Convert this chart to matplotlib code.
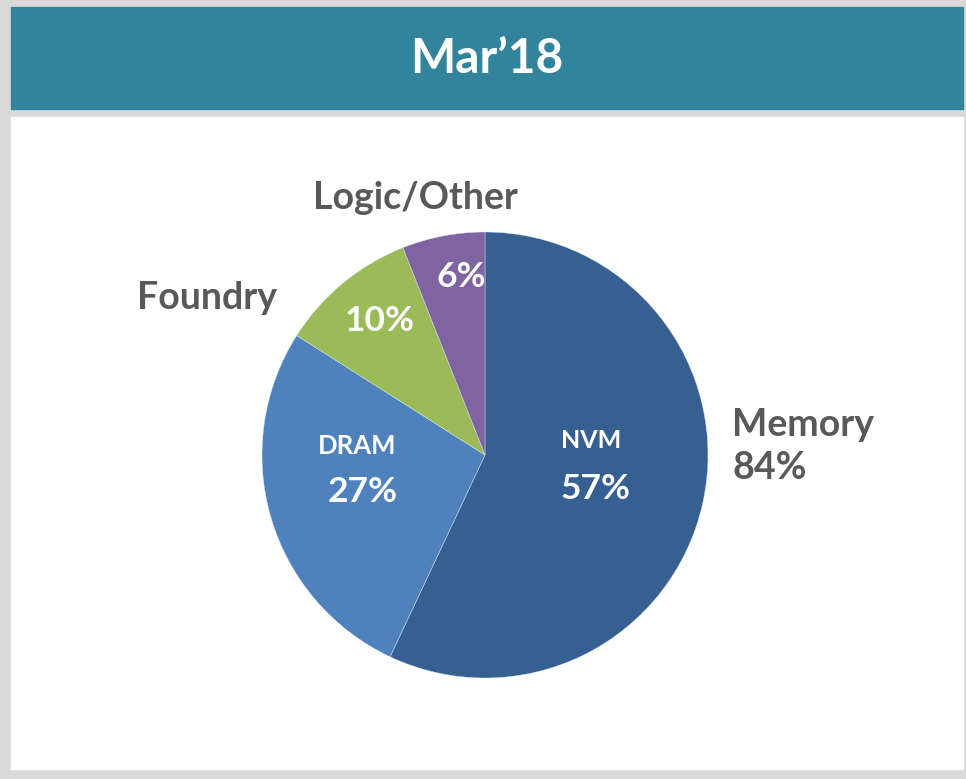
import matplotlib
matplotlib.use("Agg")
import matplotlib.pyplot as plt
from matplotlib.patches import Rectangle

# data
segments = ["NVM", "DRAM", "Foundry", "Logic/Other"]
shares = [57, 27, 10, 6]
colors = ["#366092", "#4F81BD", "#9BBB59", "#8064A2"]
title = "Mar\u201918"
memory_total = 84

W, H = 966, 779
GREY = "#595959"
FONT = "Lato"

fig = plt.figure(figsize=(W / 100, H / 100), dpi=100)
fig.patch.set_facecolor("#D9D9D9")
ax = fig.add_axes([0, 0, 1, 1])


def py(y):
    # pixel row (top origin) -> data y
    return H - y


# header band and white panel
ax.add_patch(Rectangle((11, py(109)), 952, 102, color="#31849B", zorder=0))
ax.add_patch(Rectangle((11, py(769)), 952, 652, color="white", zorder=0))

ax.pie(shares, colors=colors, startangle=90, counterclock=False,
       center=(485, py(455)), radius=223, frame=True,
       wedgeprops=dict(linewidth=0.3, edgecolor="#DDE6F0"))

ax.set_xlim(0, W)
ax.set_ylim(0, H)
ax.set_aspect("auto")
ax.axis("off")

ax.text(487, py(59), title, color="white", fontsize=34.5, fontweight="bold",
        family=FONT, ha="center", va="center")

# outside labels
ax.text(415, py(198), "Logic/Other", color=GREY, fontsize=27, fontweight="bold",
        family=FONT, ha="center", va="center")
ax.text(207, py(298), "Foundry", color=GREY, fontsize=27, fontweight="bold",
        family=FONT, ha="center", va="center")
ax.text(732, py(425), "Memory", color=GREY, fontsize=27, fontweight="bold",
        family=FONT, ha="left", va="center")
ax.text(732, py(468), f"{memory_total}%", color=GREY, fontsize=27, fontweight="bold",
        family=FONT, ha="left", va="center")

# inside labels
ax.text(461, py(277), f"{shares[3]}%", color="white", fontsize=25.5, fontweight="bold",
        family=FONT, ha="center", va="center")
ax.text(380, py(321), f"{shares[2]}%", color="white", fontsize=25.5, fontweight="bold",
        family=FONT, ha="center", va="center")
ax.text(357, py(446), segments[1], color="white", fontsize=18.5, fontweight="bold",
        family=FONT, ha="center", va="center")
ax.text(363, py(492), f"{shares[1]}%", color="white", fontsize=25.5, fontweight="bold",
        family=FONT, ha="center", va="center")
ax.text(591, py(440), segments[0], color="white", fontsize=18, fontweight="bold",
        family=FONT, ha="center", va="center")
ax.text(595, py(489), f"{shares[0]}%", color="white", fontsize=25.5, fontweight="bold",
        family=FONT, ha="center", va="center")

fig.savefig("out.png", dpi=100, facecolor=fig.get_facecolor())
